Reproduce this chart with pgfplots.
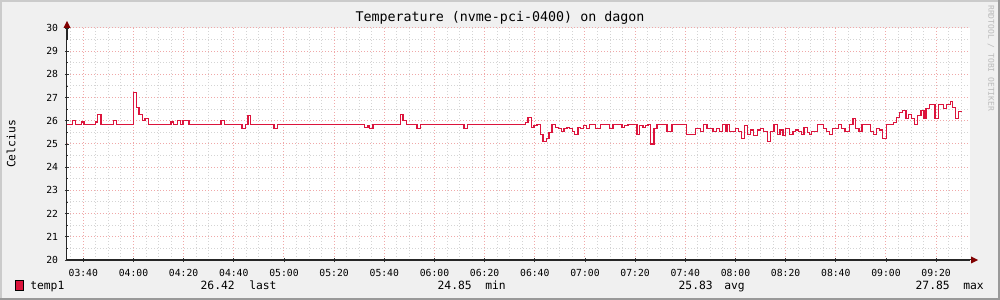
\documentclass[border=0pt]{standalone}
\usepackage{fontspec}
\setmainfont{DejaVu Sans Mono}
\usepackage{pgfplots}
\pgfplotsset{compat=1.18}
\definecolor{bgc}{HTML}{F0F0F0}
\definecolor{shadea}{HTML}{CBCBCB}
\definecolor{shadeb}{HTML}{999999}
\definecolor{linec}{HTML}{DC143C}
\definecolor{mgrid}{HTML}{F0A8A8}
\definecolor{mingrid}{HTML}{D4D4D4}
\definecolor{arrowc}{HTML}{800000}
\definecolor{wm}{HTML}{BBBBBB}
\begin{document}
\begin{tikzpicture}[x=0.75pt,y=0.75pt]
\fill[bgc] (0,0) rectangle (1000,300);
\fill[shadea] (0,298) rectangle (1000,300);
\fill[shadea] (0,0) rectangle (2,300);
\fill[shadeb] (0,0) rectangle (1000,2);
\fill[shadeb] (998,0) rectangle (1000,300);
\begin{axis}[
  at={(50.25pt,30pt)}, anchor=south west,
  scale only axis, width=677.25pt, height=174pt,
  xmin=213.5, xmax=573.5, ymin=20, ymax=30,
  axis background/.style={fill=white},
  axis x line=bottom, axis y line=left,
  axis line style={-, draw=black!85, line width=0.75pt},
  xtick={220,240,...,560},
  xticklabels={03:40,04:00,04:20,04:40,05:00,05:20,05:40,06:00,06:20,06:40,07:00,07:20,07:40,08:00,08:20,08:40,09:00,09:20},
  minor xtick={215,220,...,570},
  ytick={20,21,...,30},
  minor ytick={20.5,21.5,...,29.5},
  grid=both,
  major grid style={mgrid, line width=0.75pt, dash pattern=on 0.75pt off 1.5pt},
  minor grid style={mingrid, line width=0.75pt, dash pattern=on 0.75pt off 1.5pt},
  tick align=center, major tick length=3pt, minor tick length=1.5pt,
  tick style={black!80, line width=0.5pt},
  ticklabel style={font=\fontsize{7.3}{8}\selectfont},
  xticklabel style={anchor=north, inner sep=0pt, yshift=-5.5pt},
  yticklabel style={anchor=east, inner sep=0pt, xshift=-5pt},
  /pgf/number format/assume math mode=true,
]
\addplot[const plot, linec, line width=1pt] coordinates {
(213.5,25.85) (215.6,26.0) (217.0,25.85) (219.4,25.95) (220.3,25.85)
(224.9,25.95) (225.7,26.28) (227.1,25.85) (232.0,26.0) (233.3,25.85)
(239.9,27.23) (241.3,26.58) (242.2,26.28) (243.5,26.0) (244.6,26.1)
(245.9,25.85) (254.9,25.95) (255.9,25.85) (257.5,26.0) (258.8,25.85)
(259.8,26.0) (262.2,25.85) (274.9,26.0) (276.2,25.85) (283.3,25.68)
(284.7,25.85) (285.7,26.24) (286.7,25.85) (296.0,25.68) (297.3,25.85)
(332.2,25.72) (333.5,25.81) (334.2,25.68) (335.5,25.85) (346.5,26.28)
(347.5,26.0) (348.8,25.85) (353.1,25.68) (354.4,25.85) (371.8,25.68)
(373.1,25.85) (396.3,25.94) (397.3,26.15) (398.6,25.72) (399.7,25.81)
(400.9,25.85) (402.2,25.42) (403.3,25.12) (404.6,25.25) (405.7,25.5)
(406.9,25.85) (408.2,25.72) (409.5,25.68) (410.6,25.55) (411.6,25.68)
(412.8,25.72) (413.9,25.68) (415.0,25.55) (415.9,25.42) (417.2,25.72)
(418.3,25.68) (419.5,25.81) (420.6,25.68) (421.9,25.85) (424.1,25.68)
(426.1,25.85) (429.8,25.68) (431.2,25.85) (434.7,25.72) (435.8,25.81)
(437.1,25.85) (440.7,25.42) (441.8,25.81) (443.1,25.72) (444.2,25.81)
(445.1,25.85) (446.2,25.0) (447.5,25.68) (448.7,25.85) (452.7,25.55)
(454.7,25.85) (460.6,25.42) (464.0,25.68) (466.0,25.55) (467.3,25.85)
(468.6,25.68) (471.0,25.55) (472.4,25.68) (473.7,25.55) (474.7,25.85)
(475.9,25.55) (476.6,25.85) (477.6,25.55) (479.9,25.68) (481.2,25.55)
(482.5,25.25) (483.6,25.81) (484.7,25.42) (486.0,25.6) (487.3,25.38)
(488.7,25.6) (490.0,25.68) (491.3,25.55) (492.7,25.12) (494.0,25.55)
(495.3,25.85) (496.7,25.42) (497.8,25.6) (498.9,25.38) (500.0,25.68)
(501.6,25.42) (502.9,25.55) (503.9,25.6) (505.1,25.55) (506.2,25.42)
(507.3,25.72) (508.6,25.5) (509.5,25.42) (510.4,25.55) (512.8,25.85)
(515.1,25.68) (516.4,25.55) (517.5,25.42) (518.8,25.68) (521.1,25.85)
(522.4,25.68) (523.7,25.55) (525.5,25.85) (526.8,26.1) (527.8,25.68)
(529.2,25.55) (530.4,25.85) (533.8,25.55) (535.1,25.42) (536.3,25.68)
(537.4,25.6) (538.7,25.25) (540.1,25.85) (543.1,25.94) (544.3,26.15)
(545.4,26.37) (546.7,26.45) (548.0,26.1) (549.1,26.28) (550.3,26.1)
(551.4,25.85) (552.7,26.24) (554.0,26.45) (555.1,26.1) (556.0,26.54)
(557.3,26.71) (559.6,26.1) (560.9,26.71) (563.0,26.54) (564.2,26.71)
(565.6,26.84) (566.6,26.58) (567.8,26.1) (569.0,26.41) (570.4,26.41)
};
\end{axis}
% axis extensions and arrows
\draw[black!85, line width=0.75pt] (67,40) -- (973,40);
\draw[black!85, line width=0.75pt] (67,260) -- (67,275);
\fill[arrowc] (971,43.5) -- (978,40) -- (971,36.5) -- cycle;
\fill[arrowc] (63.5,272) -- (67,279) -- (70.5,272) -- cycle;
% title and labels
\node[font=\fontsize{10}{12}\selectfont, inner sep=0pt] at (500,282) {Temperature (nvme-pci-0400) on dagon};
\node[rotate=90, font=\fontsize{8.5}{10}\selectfont, inner sep=0pt] at (11,156) {Celcius};
\node[rotate=-90, anchor=west, text=wm, font=\fontsize{6}{7}\selectfont, inner sep=0pt] at (991,295) {RRDTOOL / TOBI OETIKER};
% legend
\filldraw[fill=linec, draw=black, line width=0.75pt] (15,9) rectangle (23,19);
\begin{scope}[every node/.style={font=\fontsize{8.5}{10}\selectfont, inner sep=0pt}]
\node[anchor=base west] at (30,10) {temp1};
\node[anchor=base east] at (235,10) {26.42};
\node[anchor=base west] at (249,10) {last};
\node[anchor=base east] at (472,10) {24.85};
\node[anchor=base west] at (485,10) {min};
\node[anchor=base east] at (713,10) {25.83};
\node[anchor=base west] at (724,10) {avg};
\node[anchor=base east] at (950,10) {27.85};
\node[anchor=base west] at (963,10) {max};
\end{scope}
\end{tikzpicture}
\end{document}
